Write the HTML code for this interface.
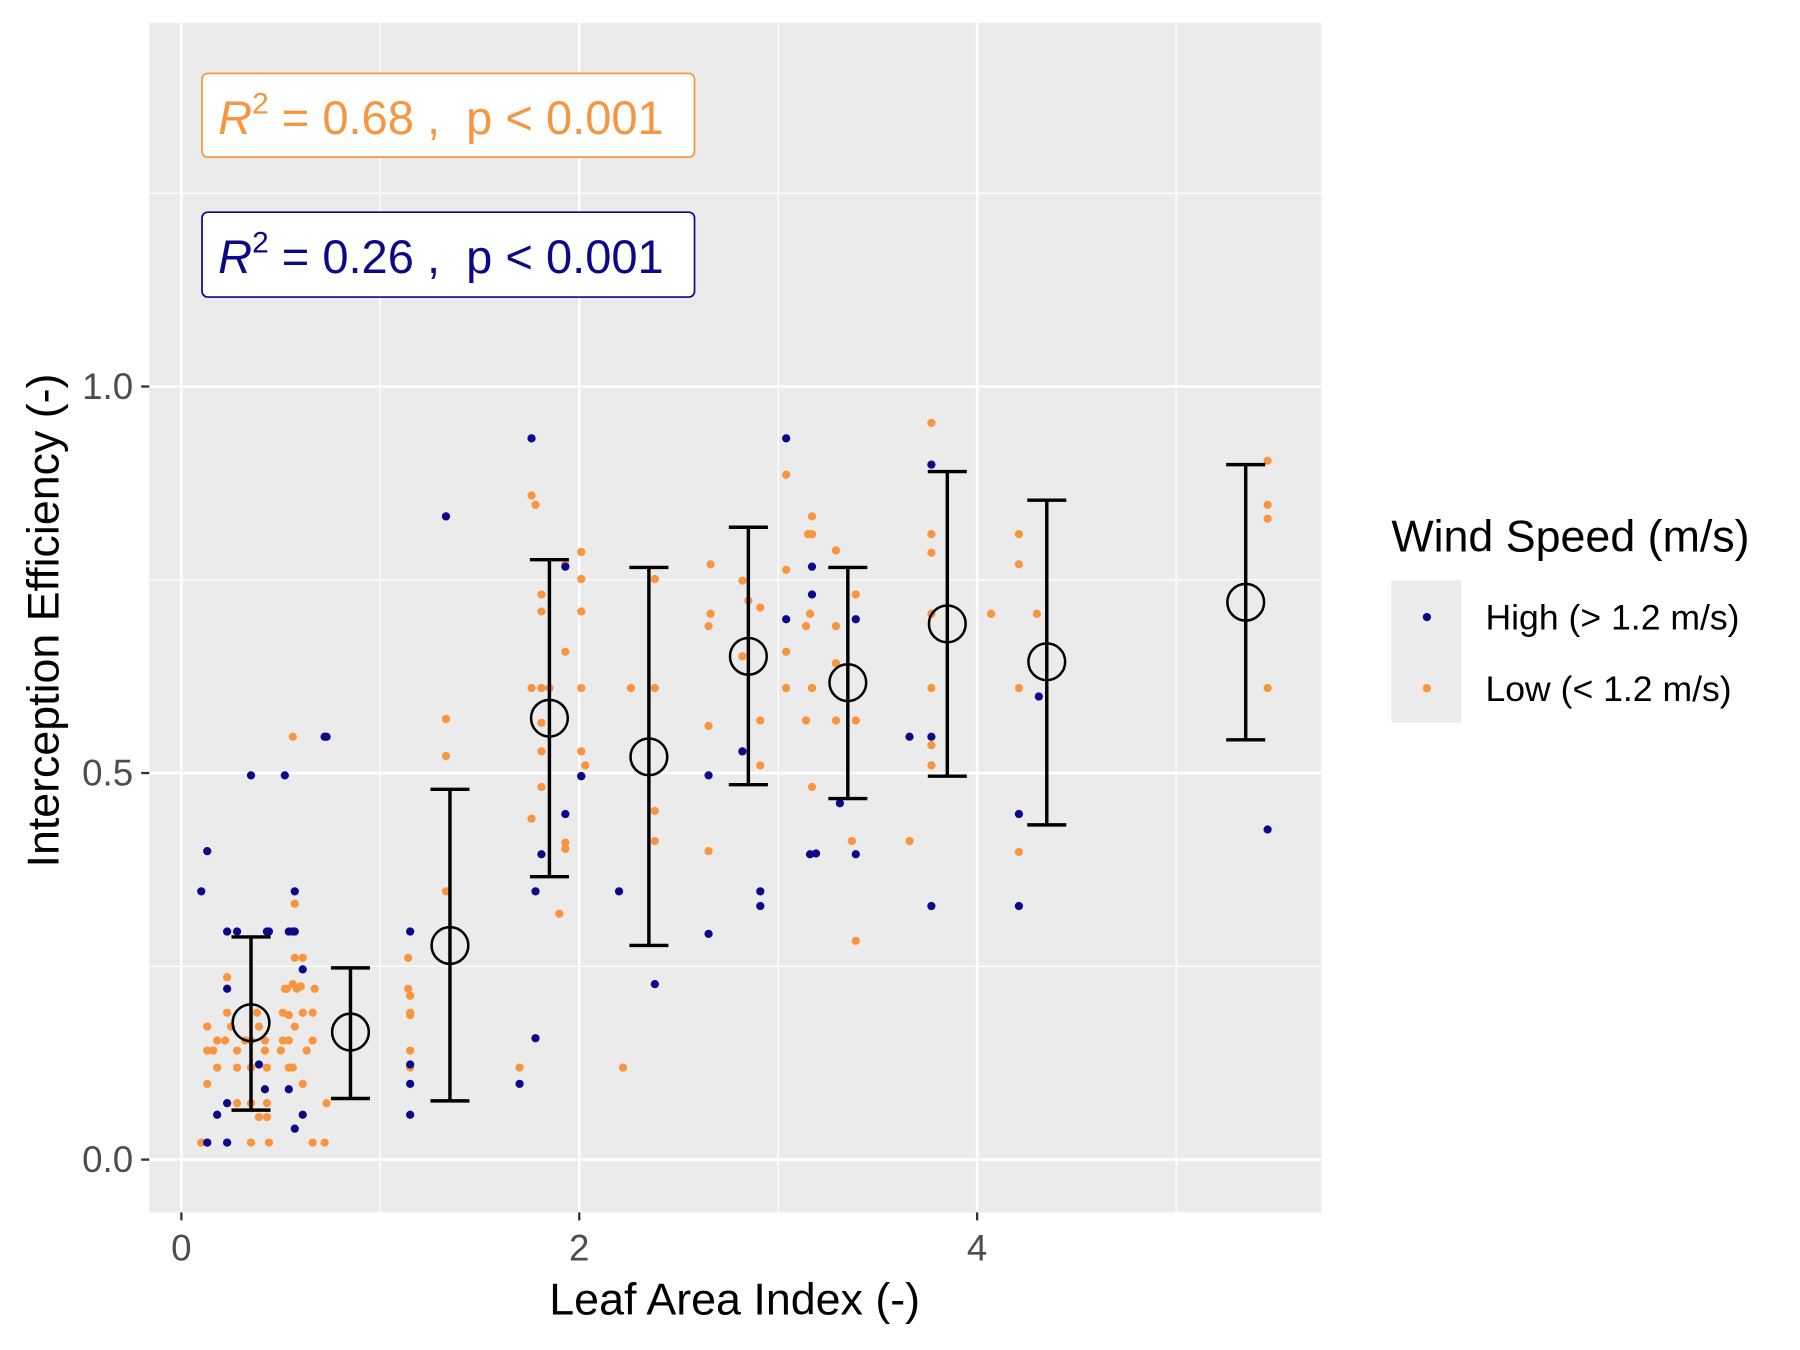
<!DOCTYPE html>
<html><head><meta charset="utf-8"><style>html,body{margin:0;padding:0;background:#fff}svg{display:block}text{font-family:"Liberation Sans",sans-serif}</style></head>
<body>
<svg id="chart" width="1800" height="1350" viewBox="0 0 1568 1177" preserveAspectRatio="none" xmlns="http://www.w3.org/2000/svg">
<rect x="130" y="20" width="1021" height="1037" fill="#ebebeb"/>
<g id="grid"></g>
<g id="pts"></g>
<g id="summ"></g>
<g id="axes"></g>
<g>
<rect x="176" y="64" width="429" height="73" rx="5" fill="#fff" stroke="#f89540" stroke-width="1.5"/>
<text x="190" y="117" font-size="41" fill="#f89540" xml:space="preserve"><tspan font-style="italic">R</tspan><tspan font-size="26" dy="-18">2</tspan><tspan dy="18"> = 0.68 ,  p &lt; 0.001</tspan></text>
</g>
<g>
<rect x="176" y="185" width="429" height="74" rx="5" fill="#fff" stroke="#0d0887" stroke-width="1.5"/>
<text x="190" y="238" font-size="41" fill="#0d0887" xml:space="preserve"><tspan font-style="italic">R</tspan><tspan font-size="26" dy="-18">2</tspan><tspan dy="18"> = 0.26 ,  p &lt; 0.001</tspan></text>
</g>
<text x="640" y="1146" font-size="39" text-anchor="middle" fill="#000">Leaf Area Index (-)</text>
<text transform="translate(51,541) rotate(-90)" font-size="39" text-anchor="middle" fill="#000">Interception Efficiency (-)</text>
<g>
<text x="1212" y="481" font-size="39" fill="#000">Wind Speed (m/s)</text>
<rect x="1212" y="506" width="61" height="124" fill="#ebebeb"/>
<circle cx="1243" cy="538" r="3.6" fill="#0d0887"/>
<circle cx="1243" cy="600" r="3.6" fill="#f89540"/>
<text x="1294" y="549" font-size="31">High (&gt; 1.2 m/s)</text>
<text x="1294" y="611" font-size="31">Low (&lt; 1.2 m/s)</text>
</g>
</svg>
<script>
const highX=[0.10,0.13,0.13,0.28,0.23,0.23,0.18,0.23,0.23,0.35,0.39,0.43,0.44,0.42,0.52,0.54,0.56,0.57,0.57,0.61,0.61,0.54,0.57,0.72,0.73,
1.15,1.15,1.15,1.15,1.33,1.70,1.78,1.76,1.78,1.81,1.93,1.93,2.01,2.01,2.20,2.38,
2.65,2.65,2.82,2.91,2.91,3.04,3.04,3.16,3.17,3.17,3.19,3.31,3.39,3.39,3.66,3.77,3.77,3.77,4.21,4.21,4.31,5.46];
const highY=[0.347,0.399,0.022,0.295,0.295,0.221,0.058,0.073,0.022,0.497,0.123,0.295,0.295,0.091,0.497,0.295,0.295,0.347,0.295,0.246,0.058,0.091,0.040,0.547,0.547,
0.295,0.123,0.098,0.058,0.832,0.098,0.157,0.933,0.347,0.395,0.447,0.767,0.496,0.496,0.347,0.227,
0.497,0.292,0.528,0.347,0.328,0.933,0.699,0.395,0.767,0.731,0.396,0.461,0.699,0.395,0.547,0.899,0.547,0.328,0.447,0.328,0.599,0.427];
const lowX=[0.10,0.13,0.13,0.13,0.13,0.16,0.18,0.18,0.22,0.23,0.23,0.25,0.28,0.28,0.28,0.32,0.35,0.35,0.35,0.35,0.38,0.39,0.43,0.44,0.43,0.39,0.42,0.43,0.42,0.51,0.52,0.51,0.54,0.53,0.54,0.54,0.56,0.56,0.57,0.57,0.57,0.58,0.61,0.61,0.61,0.63,0.66,0.66,0.66,0.67,0.72,0.73,0.56,0.60,0.50,
1.14,1.14,1.15,1.15,1.15,1.15,1.15,1.33,1.33,1.33,
1.70,1.76,1.78,1.76,1.76,1.81,1.81,1.81,1.81,1.81,1.85,1.81,1.90,1.93,1.93,1.93,1.93,2.01,2.01,2.01,2.01,2.03,2.01,
2.22,2.26,2.38,2.38,2.38,2.38,
2.66,2.66,2.65,2.65,2.65,2.82,2.82,2.85,2.91,2.91,2.91,3.04,3.04,3.04,3.04,3.14,3.14,3.15,3.17,3.17,3.16,3.17,3.17,3.17,
3.29,3.29,3.29,3.29,3.39,3.39,3.37,3.39,
3.66,3.77,3.77,3.77,3.77,3.77,3.77,3.77,4.07,4.21,4.21,4.21,4.21,4.30,5.46,5.46,5.46,5.46];
const lowY=[0.022,0.022,0.172,0.141,0.098,0.141,0.154,0.119,0.154,0.190,0.236,0.172,0.073,0.119,0.141,0.154,0.022,0.154,0.119,0.073,0.190,0.055,0.055,0.022,0.073,0.172,0.154,0.119,0.141,0.190,0.221,0.154,0.187,0.221,0.119,0.154,0.119,0.227,0.172,0.331,0.261,0.221,0.261,0.190,0.098,0.141,0.154,0.190,0.022,0.221,0.022,0.073,0.547,0.224,0.141,
0.261,0.221,0.212,0.190,0.141,0.119,0.187,0.570,0.522,0.347,
0.119,0.859,0.847,0.441,0.610,0.731,0.709,0.610,0.565,0.482,0.610,0.528,0.318,0.402,0.410,0.657,0.770,0.786,0.709,0.610,0.528,0.510,0.751,
0.119,0.610,0.751,0.610,0.451,0.412,
0.770,0.706,0.690,0.561,0.399,0.749,0.651,0.723,0.714,0.568,0.510,0.886,0.763,0.657,0.610,0.690,0.568,0.809,0.832,0.809,0.706,0.610,0.482,0.610,
0.788,0.690,0.642,0.568,0.731,0.568,0.412,0.283,
0.412,0.953,0.809,0.785,0.706,0.610,0.536,0.510,0.706,0.809,0.770,0.610,0.398,0.706,0.904,0.847,0.829,0.610];
const binX=[0.35,0.85,1.35,1.85,2.35,2.85,3.35,3.85,4.35,5.35];
const binMean=[0.177,0.165,0.277,0.571,0.521,0.651,0.617,0.693,0.644,0.721];
const binHi=[0.288,0.248,0.479,0.776,0.766,0.818,0.766,0.890,0.853,0.899];
const binLo=[0.064,0.079,0.076,0.366,0.277,0.485,0.467,0.496,0.433,0.543];
const xMajor=[0,2,4], xMajorLabels=["0","2","4"], xMinor=[1,3,5];
const yMajor=[0,0.5,1.0], yMajorLabels=["0.0","0.5","1.0"], yMinor=[0.25,0.75,1.25];

const NS="http://www.w3.org/2000/svg";
const sx=v=>158+v*173.3, sy=v=>1011-v*674;
function mk(tag,attrs,parent){const e=document.createElementNS(NS,tag);for(const k in attrs)e.setAttribute(k,attrs[k]);parent.appendChild(e);return e;}
const grid=document.getElementById('grid'),axes=document.getElementById('axes');
xMinor.forEach(v=>{const l=mk('line',{x1:sx(v),x2:sx(v),y1:20,y2:1057,stroke:'#fff','stroke-width':1.1},grid);

});
yMinor.forEach(v=>{const l=mk('line',{x1:130,x2:1151,y1:sy(v),y2:sy(v),stroke:'#fff','stroke-width':1.1},grid);

});
xMajor.forEach((v,i)=>{const l=mk('line',{x1:sx(v),x2:sx(v),y1:20,y2:1057,stroke:'#fff','stroke-width':2.2},grid);


const t=mk('line',{x1:sx(v),x2:sx(v),y1:1057,y2:1064,stroke:'#333','stroke-width':2},axes);


const tx=mk('text',{x:sx(v),y:1099,'font-size':32,'text-anchor':'middle',fill:'#4d4d4d'},axes);tx.textContent=xMajorLabels[i];

});
yMajor.forEach((v,i)=>{const l=mk('line',{x1:130,x2:1151,y1:sy(v),y2:sy(v),stroke:'#fff','stroke-width':2.2},grid);


const t=mk('line',{x1:123,x2:130,y1:sy(v),y2:sy(v),stroke:'#333','stroke-width':2},axes);


const tx=mk('text',{x:116,y:sy(v)+11,'font-size':32,'text-anchor':'end',fill:'#4d4d4d'},axes);tx.textContent=yMajorLabels[i];

});
const pts=document.getElementById('pts');
lowX.forEach((v,i)=>{const c=mk('circle',{cx:sx(v),cy:sy(lowY[i]),r:3.6,fill:'#f89540'},pts);

});
highX.forEach((v,i)=>{const c=mk('circle',{cx:sx(v),cy:sy(highY[i]),r:3.6,fill:'#0d0887'},pts);

});
const summ=document.getElementById('summ');
binX.forEach((v,i)=>{const g=mk('g',{},summ);


const x=sx(v),st={stroke:'#000','stroke-width':3,fill:'none'};
mk('line',Object.assign({x1:x,x2:x,y1:sy(binHi[i]),y2:sy(binLo[i])},st),g);
mk('line',Object.assign({x1:x-17,x2:x+17,y1:sy(binHi[i]),y2:sy(binHi[i])},st),g);
mk('line',Object.assign({x1:x-17,x2:x+17,y1:sy(binLo[i]),y2:sy(binLo[i])},st),g);
mk('circle',Object.assign({cx:x,cy:sy(binMean[i]),r:16},st,{'stroke-width':2.2}),g);});
</script>
</body></html>
